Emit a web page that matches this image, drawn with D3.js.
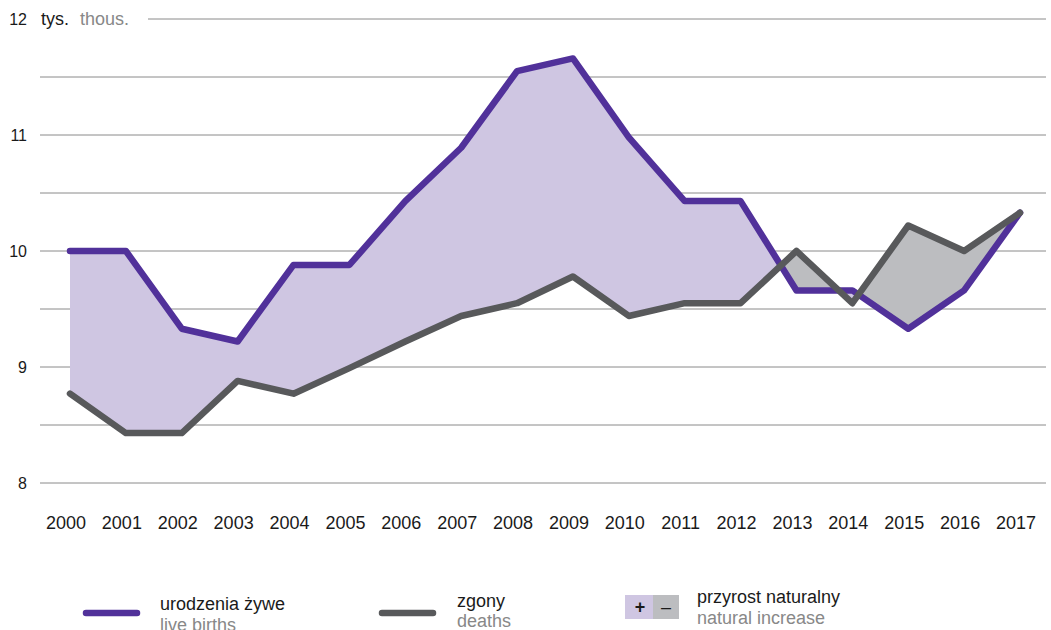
<!DOCTYPE html>
<html>
<head>
<meta charset="utf-8">
<script src="https://cdn.jsdelivr.net/npm/d3@7"></script>
<style>
  body { margin: 0; background: #fff; }
  svg { font-family: "Liberation Sans", Arial, sans-serif; }
</style>
</head>
<body>
<svg id="chart" width="1051" height="630"></svg>
<script>
// data (thousands)
const years = [2000,2001,2002,2003,2004,2005,2006,2007,2008,2009,2010,2011,2012,2013,2014,2015,2016,2017];
const births = [10.0,10.0,9.33,9.22,9.88,9.88,10.43,10.89,11.55,11.66,10.98,10.43,10.43,9.66,9.66,9.33,9.66,10.33];
const deaths = [8.77,8.43,8.43,8.88,8.77,8.99,9.22,9.44,9.55,9.78,9.44,9.55,9.55,10.0,9.55,10.22,10.0,10.33];
const yTicks = [8, 9, 10, 11, 12];
const gridVals = [8, 8.5, 9, 9.5, 10, 10.5, 11, 11.5, 12];

const purple = "#51319a", gray = "#58595b";
const fillPlus = "#cfc6e2", fillMinus = "#bcbdc0";

const svg = d3.select("#chart");
const x = d3.scaleLinear().domain([2000, 2017]).range([70, 1020]);
const y = d3.scaleLinear().domain([8, 12]).range([483, 19]);

const rows = years.map((yr, i) => ({ yr, b: births[i], d: deaths[i] }));

// grid
svg.append("g").selectAll("line")
  .data(gridVals)
  .join("line")
    .attr("x1", d => d === 12 ? 148 : 40)
    .attr("x2", 1046)
    .attr("y1", d => y(d)).attr("y2", d => y(d))
    .attr("stroke", "#8a8a8a")
    .attr("stroke-width", 1);

// y labels
svg.append("g").selectAll("text")
  .data(yTicks)
  .join("text")
    .attr("x", 27)
    .attr("y", d => y(d) + 6)
    .attr("text-anchor", "end")
    .attr("font-size", 16)
    .attr("fill", "#1a1a1a")
    .text(d => d);

svg.append("text").attr("x", 41).attr("y", 25).attr("font-size", 18).attr("fill", "#1a1a1a").text("tys.");
svg.append("text").attr("x", 80).attr("y", 25).attr("font-size", 18).attr("fill", "#888").text("thous.");

// x labels
svg.append("g").selectAll("text")
  .data(years)
  .join("text")
    .attr("x", d => x(d) - 4)
    .attr("y", 529)
    .attr("text-anchor", "middle")
    .attr("font-size", 18)
    .attr("fill", "#1a1a1a")
    .text(d => d);

// fill between
const defs = svg.append("defs");
defs.append("clipPath").attr("id", "above")
  .append("path")
  .attr("d", d3.area().x(d => x(d.yr)).y0(0).y1(d => y(d.b))(rows));
defs.append("clipPath").attr("id", "below")
  .append("path")
  .attr("d", d3.area().x(d => x(d.yr)).y0(630).y1(d => y(d.b))(rows));

const between = d3.area().x(d => x(d.yr)).y0(d => y(d.b)).y1(d => y(d.d));
svg.append("path").attr("d", between(rows)).attr("fill", fillPlus).attr("clip-path", "url(#below)");
svg.append("path").attr("d", between(rows)).attr("fill", fillMinus).attr("clip-path", "url(#above)");

// lines
const lineB = d3.line().x(d => x(d.yr)).y(d => y(d.b));
const lineD = d3.line().x(d => x(d.yr)).y(d => y(d.d));
svg.append("path").attr("d", lineB(rows)).attr("fill", "none")
  .attr("stroke", purple).attr("stroke-width", 6.5).attr("stroke-linejoin", "round").attr("stroke-linecap", "round");
svg.append("path").attr("d", lineD(rows)).attr("fill", "none")
  .attr("stroke", gray).attr("stroke-width", 6.5).attr("stroke-linejoin", "round").attr("stroke-linecap", "round");

// legend
const leg = svg.append("g");
leg.append("line").attr("x1", 86).attr("x2", 137).attr("y1", 613).attr("y2", 613)
  .attr("stroke", purple).attr("stroke-width", 6.5).attr("stroke-linecap", "round");
leg.append("text").attr("x", 160).attr("y", 610).attr("font-size", 18).attr("fill", "#1a1a1a").text("urodzenia żywe");
leg.append("text").attr("x", 160).attr("y", 631).attr("font-size", 18).attr("fill", "#888").text("live births");

leg.append("line").attr("x1", 382).attr("x2", 433).attr("y1", 613).attr("y2", 613)
  .attr("stroke", gray).attr("stroke-width", 6.5).attr("stroke-linecap", "round");
leg.append("text").attr("x", 457).attr("y", 607).attr("font-size", 18).attr("fill", "#1a1a1a").text("zgony");
leg.append("text").attr("x", 457).attr("y", 627).attr("font-size", 18).attr("fill", "#888").text("deaths");

leg.append("rect").attr("x", 625).attr("y", 595).attr("width", 28).attr("height", 24).attr("fill", fillPlus);
leg.append("rect").attr("x", 653).attr("y", 595).attr("width", 26).attr("height", 24).attr("fill", fillMinus);
leg.append("text").attr("x", 640).attr("y", 613).attr("text-anchor", "middle").attr("font-size", 18).attr("font-weight", "bold").attr("fill", "#1a1a1a").text("+");
leg.append("text").attr("x", 666).attr("y", 613).attr("text-anchor", "middle").attr("font-size", 18).attr("fill", "#1a1a1a").text("–");
leg.append("text").attr("x", 697).attr("y", 603).attr("font-size", 18).attr("fill", "#1a1a1a").text("przyrost naturalny");
leg.append("text").attr("x", 697).attr("y", 624).attr("font-size", 18).attr("fill", "#888").text("natural increase");
</script>
</body>
</html>
